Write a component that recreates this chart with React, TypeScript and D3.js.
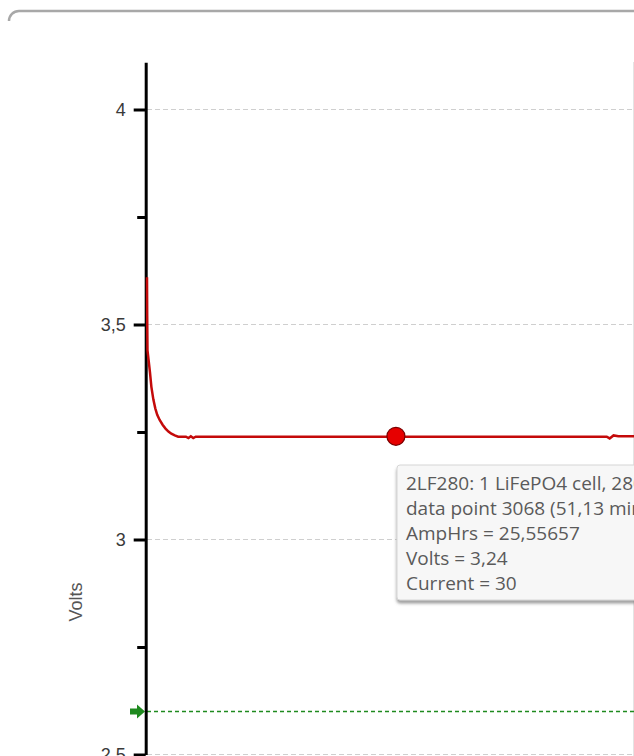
import React, { useEffect, useRef } from 'react';
import * as d3 from 'd3';

// discharge curve (AmpHrs vs Volts)
const ampHrs = [0, 0.02, 0.05, 0.15, 0.3, 0.45, 0.65, 0.85, 1.05, 1.3, 1.6, 1.9, 2.2, 2.5, 2.85, 3.2, 4.0, 4.25, 4.5, 4.75, 5.0, 5.3, 10, 15, 20, 25.55657, 30, 35, 40, 45, 47.2, 47.5, 47.9, 48.4, 50];
const volts = [3.61, 3.52, 3.44, 3.42, 3.39, 3.355, 3.326, 3.305, 3.29, 3.278, 3.267, 3.258, 3.251, 3.246, 3.242, 3.239, 3.239, 3.236, 3.24, 3.236, 3.239, 3.239, 3.239, 3.239, 3.239, 3.239, 3.239, 3.239, 3.239, 3.239, 3.239, 3.235, 3.242, 3.24, 3.24];

const majorTicks = [2.5, 3, 3.5, 4];
const minorTicks = [2.75, 3.25, 3.75];
const cutoffVolts = 2.6;

// highlighted point + tooltip
const markerAmpHrs = 25.55657;
const markerVolts = 3.24;
const tooltipLines = [
  '2LF280: 1 LiFePO4 cell, 280Ah',
  'data point 3068 (51,13 min)',
  'AmpHrs = 25,55657',
  'Volts = 3,24',
  'Current = 30',
];

const App = () => {
  const ref = useRef<SVGSVGElement>(null);

  useEffect(() => {
    const svg = d3.select(ref.current);
    svg.selectAll('*').remove();

    const width = 634;
    const height = 756;
    const axisX = 145.7;

    const x = d3.scaleLinear().domain([0, 50]).range([147, 634]);
    const y = d3.scaleLinear().domain([2.5, 4.11]).range([754.5, 754.5 - 1.61 * 430]);

    const locale = d3.formatLocale({ decimal: ',', thousands: '.', grouping: [3], currency: ['', ''] });
    const fmt = locale.format('.1~f');

    // card top border
    svg.append('path')
      .attr('d', 'M9,21 A10,10 0 0 1 19,11 H634')
      .attr('fill', 'none')
      .attr('stroke', '#a8a8a8')
      .attr('stroke-width', 2.5);

    // gridlines
    svg.append('g')
      .selectAll('line')
      .data(majorTicks)
      .enter()
      .append('line')
      .attr('x1', 147)
      .attr('x2', width)
      .attr('y1', d => y(d))
      .attr('y2', d => y(d))
      .attr('stroke', '#cfcfcf')
      .attr('stroke-dasharray', '5,3');

    // right edge of plot
    svg.append('line')
      .attr('x1', 633.5).attr('x2', 633.5)
      .attr('y1', 62).attr('y2', height)
      .attr('stroke', '#e4e4e4');

    // cutoff line
    svg.append('line')
      .attr('x1', 147)
      .attr('x2', width)
      .attr('y1', y(cutoffVolts))
      .attr('y2', y(cutoffVolts))
      .attr('stroke', '#1f8a1f')
      .attr('stroke-width', 1.3)
      .attr('stroke-dasharray', '4,3');

    const ay = y(cutoffVolts);
    svg.append('path')
      .attr('d', `M130,${ay - 3} H137 V${ay - 7} L145,${ay} L137,${ay + 7} V${ay + 3} H130 Z`)
      .attr('fill', '#1f8a1f');

    // y axis (major)
    const major = svg.append('g')
      .attr('transform', `translate(${axisX},0)`)
      .call(d3.axisLeft(y).tickValues(majorTicks).tickSize(12).tickSizeOuter(0).tickPadding(8).tickFormat(d => fmt(d as number)));
    major.select('.domain').attr('stroke', '#000').attr('stroke-width', 3);
    major.selectAll('.tick line').attr('stroke', '#000').attr('stroke-width', 3);
    major.selectAll('.tick text')
      .attr('fill', '#3a3a3a')
      .style('font-family', '"Liberation Sans", Arial, sans-serif')
      .style('font-size', '18px');

    // y axis (minor)
    const minor = svg.append('g')
      .attr('transform', `translate(${axisX},0)`)
      .call(d3.axisLeft(y).tickValues(minorTicks).tickSize(8.5).tickFormat(() => ''));
    minor.select('.domain').remove();
    minor.selectAll('.tick line').attr('stroke', '#000').attr('stroke-width', 3);

    // axis title
    svg.append('text')
      .attr('transform', 'translate(82,602) rotate(-90)')
      .attr('text-anchor', 'middle')
      .attr('fill', '#555')
      .style('font-family', '"Liberation Sans", Arial, sans-serif')
      .style('font-size', '18px')
      .text('Volts');

    // discharge curve
    const pts = ampHrs.map((a, i) => [a, volts[i]] as [number, number]);
    const line = d3.line<[number, number]>().x(d => x(d[0])).y(d => y(d[1]));
    svg.append('path')
      .datum(pts)
      .attr('d', line)
      .attr('fill', 'none')
      .attr('stroke', '#c40a0a')
      .attr('stroke-width', 2.5);

    // marker
    svg.append('circle')
      .attr('cx', x(markerAmpHrs))
      .attr('cy', y(markerVolts))
      .attr('r', 9)
      .attr('fill', '#e60000')
      .attr('stroke', '#7a0000')
      .attr('stroke-width', 1.2);

    // tooltip
    const defs = svg.append('defs');
    const f = defs.append('filter').attr('id', 'tipShadow').attr('x', '-10%').attr('y', '-10%').attr('width', '130%').attr('height', '140%');
    f.append('feDropShadow').attr('dx', 0).attr('dy', 3).attr('stdDeviation', 1.6).attr('flood-color', '#777').attr('flood-opacity', 0.7);

    const tip = svg.append('g').attr('transform', 'translate(397,465)');
    tip.append('rect')
      .attr('width', 300)
      .attr('height', 135)
      .attr('rx', 3)
      .attr('fill', '#f7f7f7')
      .attr('stroke', '#d6d6d6')
      .attr('filter', 'url(#tipShadow)');
    tip.selectAll('text')
      .data(tooltipLines)
      .enter()
      .append('text')
      .attr('x', 9)
      .attr('y', (d, i) => 24.5 + i * 25.2)
      .attr('fill', '#5a5a5a')
      .style('font-family', '"Open Sans", "Noto Sans", sans-serif')
      .style('font-size', '19px')
      .text(d => d);
  }, []);

  return (
    <svg ref={ref} width={634} height={756} style={{ position: 'absolute', left: 0, top: 0, background: '#fff' }} />
  );
};

export default App;
